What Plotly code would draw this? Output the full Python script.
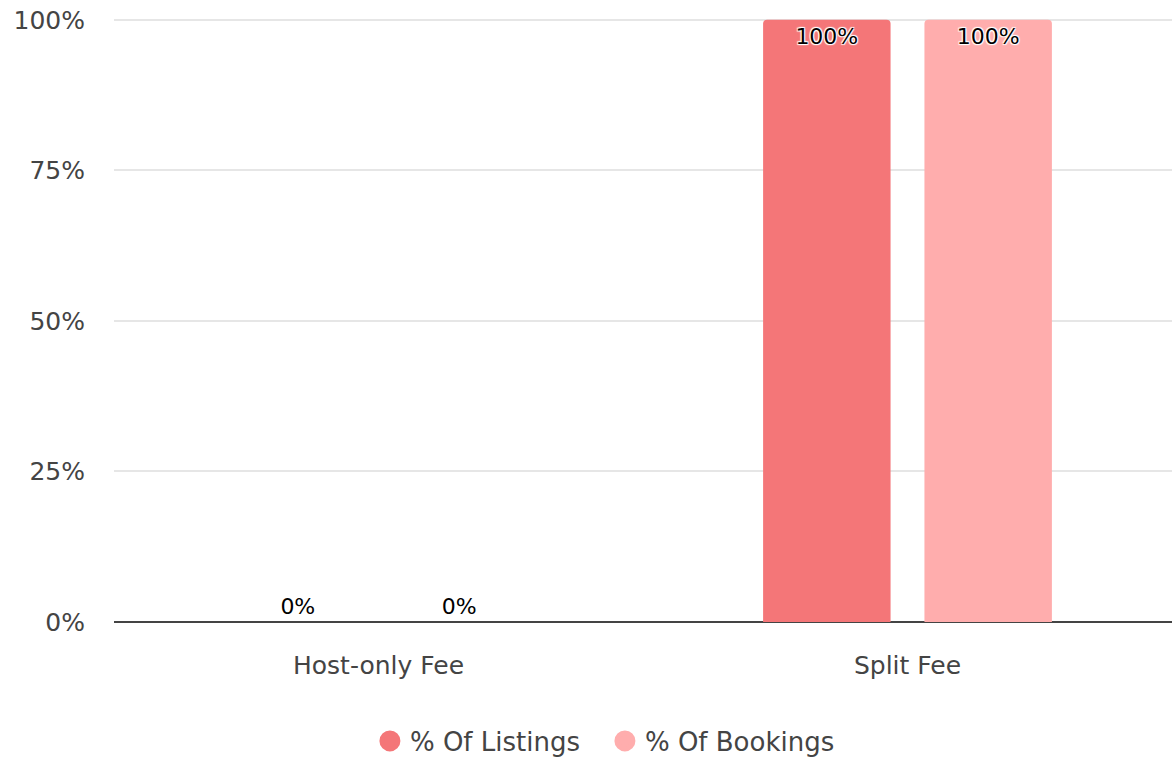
import plotly.graph_objects as go

categories = ["Host-only Fee", "Split Fee"]
listings_pct = [0, 100]
bookings_pct = [0, 100]
label_pos = ["outside", "inside"]
y_ticks = [0, 25, 50, 75, 100]
y_tick_text = ["0%", "25%", "50%", "75%", "100%"]

FONT = "DejaVu Sans, Verdana, sans-serif"
LISTINGS_COLOR = "#F47678"
BOOKINGS_COLOR = "#FFADAD"
OUTLINE = "1px 1px 1px white, -1px -1px 1px white, 1px -1px 1px white, -1px 1px 1px white"

fig = go.Figure()

fig.add_trace(go.Bar(
    x=categories,
    y=listings_pct,
    name="% Of Listings",
    marker=dict(color=LISTINGS_COLOR, line=dict(width=0)),
    text=[f"{v}%" for v in listings_pct],
    textposition=label_pos,
    insidetextanchor="end",
    textfont=dict(family=FONT, size=22, color="black", shadow=OUTLINE),
    showlegend=False,
))

fig.add_trace(go.Bar(
    x=categories,
    y=bookings_pct,
    name="% Of Bookings",
    marker=dict(color=BOOKINGS_COLOR, line=dict(width=0)),
    text=[f"{v}%" for v in bookings_pct],
    textposition=label_pos,
    insidetextanchor="end",
    textfont=dict(family=FONT, size=22, color="black", shadow=OUTLINE),
    showlegend=False,
))

# legend entries with round markers
for name, color in [("% Of Listings", LISTINGS_COLOR), ("% Of Bookings", BOOKINGS_COLOR)]:
    fig.add_trace(go.Scatter(
        x=[None], y=[None],
        mode="markers",
        name=name,
        marker=dict(symbol="circle", size=24, color=color, line=dict(color=color, width=8)),
    ))

fig.update_traces(cliponaxis=False, selector=dict(type="bar"))

fig.update_layout(
    width=1172,
    height=758,
    margin=dict(l=114, r=0, t=18, b=136),
    barmode="group",
    bargap=0.39,
    bargroupgap=0.21,
    barcornerradius=4,
    plot_bgcolor="white",
    paper_bgcolor="white",
    font=dict(family=FONT, size=25, color="#444"),
    showlegend=True,
    legend=dict(
        orientation="h",
        x=0.464,
        xanchor="center",
        yref="container",
        y=0.0224,
        yanchor="middle",
        entrywidth=190,
        font=dict(size=26, color="#444"),
    ),
)

fig.update_yaxes(
    range=[0, 100.3],
    tickmode="array",
    tickvals=y_ticks,
    ticktext=y_tick_text,
    showgrid=True,
    gridcolor="#e6e6e6",
    gridwidth=1.5,
    zeroline=True,
    zerolinecolor="#444",
    zerolinewidth=2,
    tickfont=dict(size=25, color="#444"),
    ticks="",
    ticklabelstandoff=28,
    ticklabeloverflow="allow",
)

fig.update_xaxes(
    showgrid=False,
    ticks="",
    tickfont=dict(size=25, color="#444"),
    ticklabelstandoff=26,
)

# drop the default body margin so the figure sits at the page corner
fig.write_html(
    "out.html",
    config={"displayModeBar": False},
    post_script="document.body.style.margin = '0';",
)
